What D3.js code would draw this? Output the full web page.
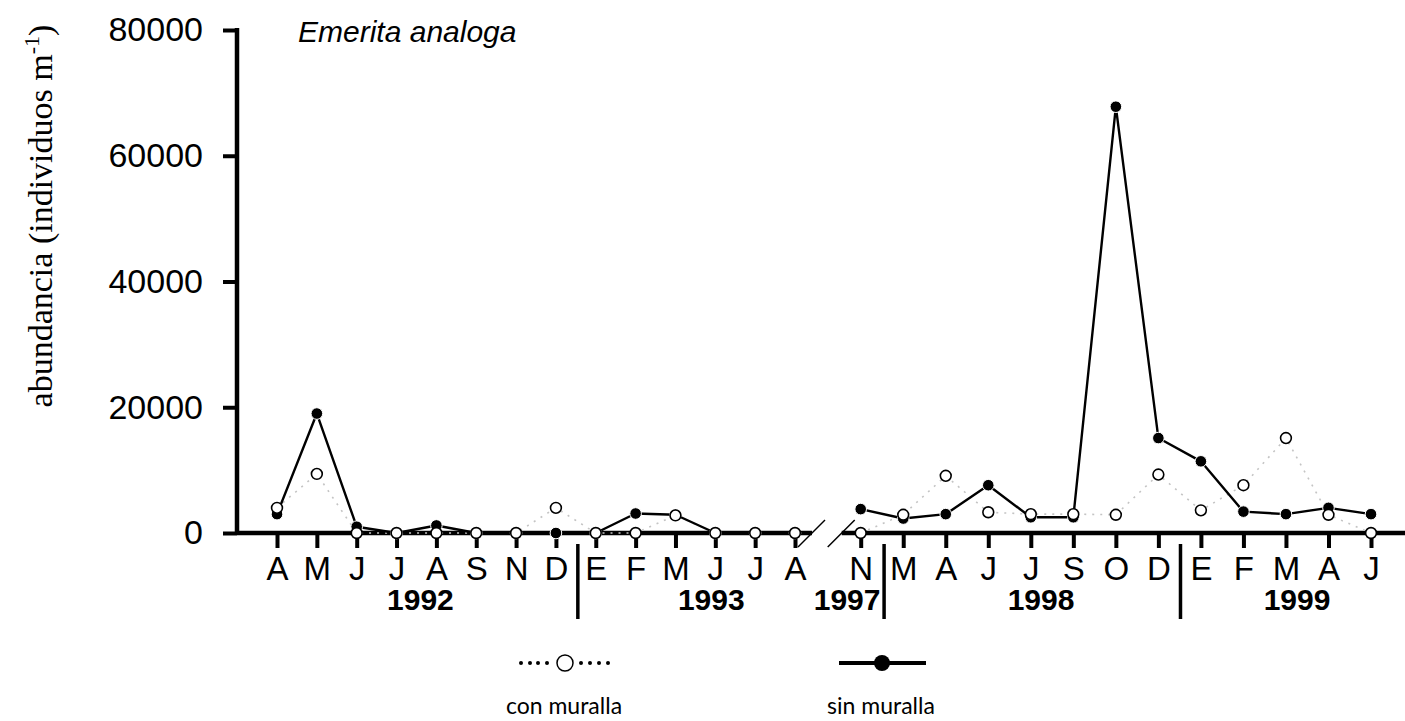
<!DOCTYPE html>
<html>
<head>
<meta charset="utf-8">
<script src="https://cdn.jsdelivr.net/npm/d3@7"></script>
<style>
  body { margin: 0; background: #fff; }
  svg { display: block; }
</style>
</head>
<body>
<svg id="chart"></svg>
<script>
// months before the axis break (1992-1993) and after it (1997-1999)
const monthsA = ['A', 'M', 'J', 'J', 'A', 'S', 'N', 'D', 'E', 'F', 'M', 'J', 'J', 'A'];
const monthsB = ['N', 'M', 'A', 'J', 'J', 'S', 'O', 'D', 'E', 'F', 'M', 'A', 'J'];

// abundancia, con muralla (open circles)
const conA = [4000, 9400, 0, 0, 0, 0, 0, 4000, 0, 0, 2800, 0, 0, 0];
const conB = [0, 2900, 9100, 3300, 3000, 3000, 2900, 9300, 3600, 7600, 15100, 2900, 0];

// abundancia, sin muralla (filled circles)
const sinA = [3000, 19000, 1000, 0, 1200, 0, 0, 0, 0, 3100, 2900, 0, 0, 0];
const sinB = [3800, 2300, 3000, 7600, 2500, 2500, 67800, 15100, 11400, 3400, 3000, 4000, 3000];

const yTicks = [0, 20000, 40000, 60000, 80000];

// year labels: segment and (fractional) month position
const years = ['1992', '1993', '1997', '1998', '1999'];
const yearSeg = ['A', 'A', 'B', 'B', 'B'];
const yearPos = [3.6, 10.9, -0.32, 4.24, 10.26];

// year separators between months
const sepSeg = ['A', 'B', 'B'];
const sepPos = [7.55, 0.55, 7.52];

const width = 1405, height = 721;
const svg = d3.select('#chart').attr('width', width).attr('height', height);

const xA = d3.scaleLinear().domain([0, monthsA.length - 1]).range([277, 795]);
const xB = d3.scaleLinear().domain([0, monthsB.length - 1]).range([860.7, 1371]);
const xOf = { A: xA, B: xB };
const y = d3.scaleLinear().domain([0, 80000]).range([533, 30]);

const axisX0 = 237;
const breakL = xA(monthsA.length - 1) + 17;
const breakR = xB(0) - 19;

//Y AXIS
const yAxis = svg
  .append('g')
  .attr('transform', `translate(${axisX0},0)`)
  .call(d3.axisLeft(y).tickValues(yTicks).tickFormat(d3.format('d')).tickSize(14).tickSizeOuter(0).tickPadding(20));
yAxis.select('.domain').remove();
yAxis.selectAll('.tick line').attr('stroke', '#000').attr('stroke-width', 4);
yAxis
  .selectAll('.tick text')
  .attr('fill', '#000')
  .attr('font-family', 'Liberation Sans, Arial, sans-serif')
  .attr('font-size', 34);
yAxis
  .append('line')
  .attr('x1', 0)
  .attr('x2', 0)
  .attr('y1', y(80000) - 2)
  .attr('y2', y(0) + 2)
  .attr('stroke', '#000')
  .attr('stroke-width', 4.5);

//X AXIS (two pieces with a break)
svg
  .append('line')
  .attr('x1', axisX0)
  .attr('x2', breakL)
  .attr('y1', y(0))
  .attr('y2', y(0))
  .attr('stroke', '#000')
  .attr('stroke-width', 4.5);
svg
  .append('line')
  .attr('x1', breakR)
  .attr('x2', width)
  .attr('y1', y(0))
  .attr('y2', y(0))
  .attr('stroke', '#000')
  .attr('stroke-width', 4.5);

[breakL, breakR].forEach((bx) => {
  svg
    .append('line')
    .attr('x1', bx - 14)
    .attr('y1', y(0) + 14)
    .attr('x2', bx + 13)
    .attr('y2', y(0) - 13)
    .attr('stroke', '#000')
    .attr('stroke-width', 1.5);
});

function monthAxis(scale, months) {
  const g = svg
    .append('g')
    .attr('transform', `translate(0,${y(0)})`)
    .call(
      d3
        .axisBottom(scale)
        .tickValues(d3.range(months.length))
        .tickFormat((i) => months[i])
        .tickSize(15)
        .tickSizeOuter(0)
    );
  g.select('.domain').remove();
  g.selectAll('.tick line').attr('stroke', '#000').attr('stroke-width', 4);
  g.selectAll('.tick text')
    .attr('y', 47)
    .attr('dy', 0)
    .attr('fill', '#000')
    .attr('font-family', 'Liberation Sans, Arial, sans-serif')
    .attr('font-size', 33);
}
monthAxis(xA, monthsA);
monthAxis(xB, monthsB);

//YEARS AND SEPARATORS
svg
  .selectAll('.year')
  .data(years)
  .enter()
  .append('text')
  .classed('year', true)
  .attr('x', (d, i) => xOf[yearSeg[i]](yearPos[i]))
  .attr('y', 610)
  .attr('text-anchor', 'middle')
  .attr('font-family', 'Liberation Sans, Arial, sans-serif')
  .attr('font-weight', 'bold')
  .attr('font-size', 30)
  .text((d) => d);

svg
  .selectAll('.sep')
  .data(sepPos)
  .enter()
  .append('line')
  .classed('sep', true)
  .attr('x1', (d, i) => xOf[sepSeg[i]](d))
  .attr('x2', (d, i) => xOf[sepSeg[i]](d))
  .attr('y1', 544)
  .attr('y2', 619)
  .attr('stroke', '#000')
  .attr('stroke-width', 3.5);

//SERIES
const lineA = d3.line().x((d, i) => xA(i)).y((d) => y(d));
const lineB = d3.line().x((d, i) => xB(i)).y((d) => y(d));

const plot = svg.append('g');
[[conA, lineA], [conB, lineB]].forEach(([vals, gen]) => {
  plot
    .append('path')
    .attr('d', gen(vals))
    .attr('fill', 'none')
    .attr('stroke', '#c4c4c4')
    .attr('stroke-width', 1.6)
    .attr('stroke-dasharray', '2,6');
});
[[sinA, lineA], [sinB, lineB]].forEach(([vals, gen]) => {
  plot
    .append('path')
    .attr('d', gen(vals))
    .attr('fill', 'none')
    .attr('stroke', '#000')
    .attr('stroke-width', 2.4)
    .attr('stroke-linejoin', 'round');
});

function dots(vals, scale, filled) {
  plot
    .append('g')
    .selectAll('circle')
    .data(vals)
    .enter()
    .append('circle')
    .attr('cx', (d, i) => scale(i))
    .attr('cy', (d) => y(d))
    .attr('r', filled ? 5.8 : 5.4)
    .attr('fill', filled ? '#000' : '#fff')
    .attr('stroke', filled ? '#fff' : '#000')
    .attr('stroke-width', filled ? 1 : 1.6);
}
dots(sinA, xA, true);
dots(sinB, xB, true);
dots(conA, xA, false);
dots(conB, xB, false);

//TITLE AND Y LABEL
svg
  .append('text')
  .attr('x', 298)
  .attr('y', 42)
  .attr('font-family', 'Liberation Sans, Arial, sans-serif')
  .attr('font-style', 'italic')
  .attr('font-size', 30)
  .text('Emerita analoga');

const ylab = svg
  .append('text')
  .attr('transform', 'translate(52,216) rotate(-90)')
  .attr('text-anchor', 'middle')
  .attr('font-family', 'Liberation Serif, Times New Roman, serif')
  .attr('font-size', 34);
ylab.append('tspan').text('abundancia (individuos m');
ylab.append('tspan').attr('font-size', 22).attr('dy', -13).text('-1');
ylab.append('tspan').attr('dy', 13).text(')');

//LEGEND
const legendY = 663;
const leg = svg.append('g');
[-44, -35, -27, -18, 16, 25, 34, 43].forEach((dx) => {
  leg.append('circle').attr('cx', 565 + dx).attr('cy', legendY).attr('r', 2).attr('fill', '#000');
});
leg
  .append('circle')
  .attr('cx', 565)
  .attr('cy', legendY)
  .attr('r', 8)
  .attr('fill', '#fff')
  .attr('stroke', '#000')
  .attr('stroke-width', 1.5);
leg
  .append('line')
  .attr('x1', 839)
  .attr('x2', 926)
  .attr('y1', legendY)
  .attr('y2', legendY)
  .attr('stroke', '#000')
  .attr('stroke-width', 4);
leg.append('circle').attr('cx', 882).attr('cy', legendY).attr('r', 8).attr('fill', '#000');

leg
  .selectAll('.leg-label')
  .data(['con muralla', 'sin muralla'])
  .enter()
  .append('text')
  .classed('leg-label', true)
  .attr('x', (d, i) => (i === 0 ? 564 : 881))
  .attr('y', 714)
  .attr('text-anchor', 'middle')
  .attr('font-family', 'Lato, Liberation Sans, sans-serif')
  .attr('font-size', 23)
  .text((d) => d);
</script>
</body>
</html>
